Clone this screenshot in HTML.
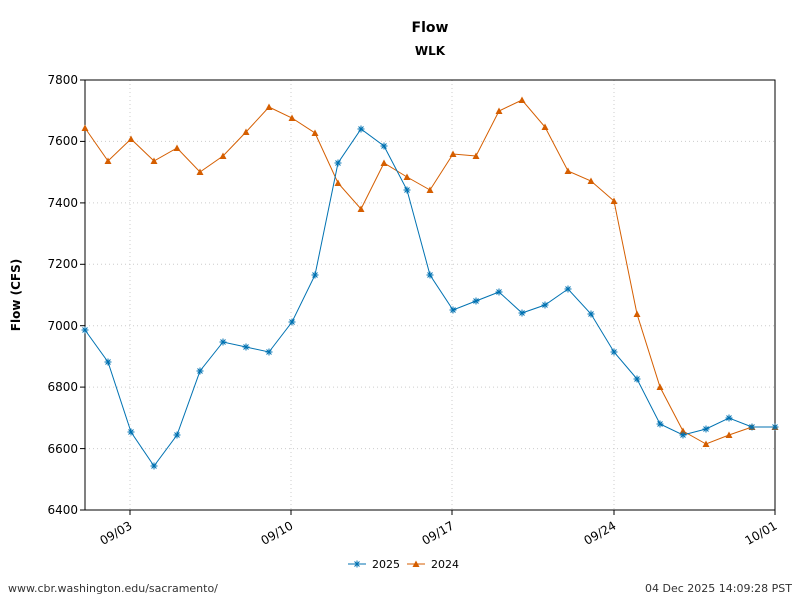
<!DOCTYPE html>
<html><head><meta charset="utf-8"><style>body{margin:0;background:#fff}svg{display:block}</style></head><body>
<svg width="800" height="600" xmlns="http://www.w3.org/2000/svg" xmlns:xlink="http://www.w3.org/1999/xlink" font-family="DejaVu Sans, Liberation Sans, sans-serif">
<defs>
<g id="st" stroke="#0072b2" stroke-width="1"><line x1="-3.5" x2="3.5" y1="0" y2="0"/><line x1="0" x2="0" y1="-3.5" y2="3.5"/><line x1="-2.5" x2="2.5" y1="-2.5" y2="2.5"/><line x1="-2.5" x2="2.5" y1="2.5" y2="-2.5"/></g>
<polygon id="tr" points="0,-3.5 3.5,3 -3.5,3" fill="#d55e00"/>
</defs>
<rect width="800" height="600" fill="#fff"/>
<text x="430" y="32" text-anchor="middle" font-size="14" font-weight="bold">Flow</text>
<text x="430" y="55" text-anchor="middle" font-size="12" font-weight="bold">WLK</text>
<g stroke="#ccc" stroke-dasharray="1,3" stroke-width="1">
<line x1="85" x2="775" y1="141.4" y2="141.4"/><line x1="85" x2="775" y1="202.9" y2="202.9"/><line x1="85" x2="775" y1="264.3" y2="264.3"/><line x1="85" x2="775" y1="325.7" y2="325.7"/><line x1="85" x2="775" y1="387.1" y2="387.1"/><line x1="85" x2="775" y1="448.6" y2="448.6"/>
<line x1="130" x2="130" y1="80" y2="510"/><line x1="291" x2="291" y1="80" y2="510"/><line x1="452" x2="452" y1="80" y2="510"/><line x1="614" x2="614" y1="80" y2="510"/>
</g>
<rect x="85" y="80" width="690" height="430" fill="none" stroke="#000" stroke-width="1"/>
<g font-size="12" text-anchor="end">
<text x="78" y="84">7800</text><text x="78" y="145">7600</text><text x="78" y="207">7400</text><text x="78" y="268">7200</text><text x="78" y="330">7000</text><text x="78" y="391">6800</text><text x="78" y="453">6600</text><text x="78" y="514">6400</text>
</g>
<g stroke="#000"><line x1="80" x2="85" y1="80" y2="80"/><line x1="80" x2="85" y1="141.4" y2="141.4"/><line x1="80" x2="85" y1="202.9" y2="202.9"/><line x1="80" x2="85" y1="264.3" y2="264.3"/><line x1="80" x2="85" y1="325.7" y2="325.7"/><line x1="80" x2="85" y1="387.1" y2="387.1"/><line x1="80" x2="85" y1="448.6" y2="448.6"/><line x1="80" x2="85" y1="510" y2="510"/>
<line x1="130" x2="130" y1="510" y2="515"/><line x1="291" x2="291" y1="510" y2="515"/><line x1="452" x2="452" y1="510" y2="515"/><line x1="614" x2="614" y1="510" y2="515"/><line x1="775" x2="775" y1="510" y2="515"/></g>
<g font-size="12" text-anchor="end">
<text transform="translate(133,528) rotate(-30)">09/03</text>
<text transform="translate(294,528) rotate(-30)">09/10</text>
<text transform="translate(455,528) rotate(-30)">09/17</text>
<text transform="translate(617,528) rotate(-30)">09/24</text>
<text transform="translate(778,528) rotate(-30)">10/01</text>
</g>
<text transform="translate(20,295) rotate(-90)" text-anchor="middle" font-size="12" font-weight="bold">Flow (CFS)</text>

<polyline fill="none" stroke="#d55e00" stroke-width="1" points="85,128 108,161 131,139 154,161 177,148 200,172 223,156 246,132 269,107 292,118 315,133 338,183 361,209 384,163 407,177 430,190 453,154 476,156 499,111 522,100 545,127 568,171 591,181 614,201 637,314 660,387 683,431 706,444 729,435 752,427 775,427"/>
<polyline fill="none" stroke="#0072b2" stroke-width="1" points="85,330 108,362 131,432 154,466 177,435 200,371 223,342 246,347 269,352 292,322 315,275 338,163 361,129 384,146 407,190 430,275 453,310 476,301 499,292 522,313 545,305 568,289 591,314 614,352 637,379 660,424 683,435 706,429 729,418 752,427 775,427"/>

<use xlink:href="#tr" x="85" y="128"/><use xlink:href="#tr" x="108" y="161"/><use xlink:href="#tr" x="131" y="139"/><use xlink:href="#tr" x="154" y="161"/><use xlink:href="#tr" x="177" y="148"/><use xlink:href="#tr" x="200" y="172"/><use xlink:href="#tr" x="223" y="156"/><use xlink:href="#tr" x="246" y="132"/><use xlink:href="#tr" x="269" y="107"/><use xlink:href="#tr" x="292" y="118"/><use xlink:href="#tr" x="315" y="133"/><use xlink:href="#tr" x="338" y="183"/><use xlink:href="#tr" x="361" y="209"/><use xlink:href="#tr" x="384" y="163"/><use xlink:href="#tr" x="407" y="177"/><use xlink:href="#tr" x="430" y="190"/><use xlink:href="#tr" x="453" y="154"/><use xlink:href="#tr" x="476" y="156"/><use xlink:href="#tr" x="499" y="111"/><use xlink:href="#tr" x="522" y="100"/><use xlink:href="#tr" x="545" y="127"/><use xlink:href="#tr" x="568" y="171"/><use xlink:href="#tr" x="591" y="181"/><use xlink:href="#tr" x="614" y="201"/><use xlink:href="#tr" x="637" y="314"/><use xlink:href="#tr" x="660" y="387"/><use xlink:href="#tr" x="683" y="431"/><use xlink:href="#tr" x="706" y="444"/><use xlink:href="#tr" x="729" y="435"/><use xlink:href="#tr" x="752" y="427"/><use xlink:href="#tr" x="775" y="427"/>

<use xlink:href="#st" x="85" y="330"/><use xlink:href="#st" x="108" y="362"/><use xlink:href="#st" x="131" y="432"/><use xlink:href="#st" x="154" y="466"/><use xlink:href="#st" x="177" y="435"/><use xlink:href="#st" x="200" y="371"/><use xlink:href="#st" x="223" y="342"/><use xlink:href="#st" x="246" y="347"/><use xlink:href="#st" x="269" y="352"/><use xlink:href="#st" x="292" y="322"/><use xlink:href="#st" x="315" y="275"/><use xlink:href="#st" x="338" y="163"/><use xlink:href="#st" x="361" y="129"/><use xlink:href="#st" x="384" y="146"/><use xlink:href="#st" x="407" y="190"/><use xlink:href="#st" x="430" y="275"/><use xlink:href="#st" x="453" y="310"/><use xlink:href="#st" x="476" y="301"/><use xlink:href="#st" x="499" y="292"/><use xlink:href="#st" x="522" y="313"/><use xlink:href="#st" x="545" y="305"/><use xlink:href="#st" x="568" y="289"/><use xlink:href="#st" x="591" y="314"/><use xlink:href="#st" x="614" y="352"/><use xlink:href="#st" x="637" y="379"/><use xlink:href="#st" x="660" y="424"/><use xlink:href="#st" x="683" y="435"/><use xlink:href="#st" x="706" y="429"/><use xlink:href="#st" x="729" y="418"/><use xlink:href="#st" x="752" y="427"/><use xlink:href="#st" x="775" y="427"/>

<text x="8" y="592" font-size="11" fill="#333">www.cbr.washington.edu/sacramento/</text>
<text x="792" y="592" font-size="11" fill="#333" text-anchor="end">04 Dec 2025 14:09:28 PST</text>
<line x1="348" x2="366" y1="564" y2="564" stroke="#0072b2"/><use xlink:href="#st" x="357" y="564"/>
<text x="372" y="568" font-size="11">2025</text>
<line x1="407" x2="425" y1="564" y2="564" stroke="#d55e00"/><use xlink:href="#tr" x="416" y="564"/>
<text x="431" y="568" font-size="11">2024</text>
</svg>
</body></html>
